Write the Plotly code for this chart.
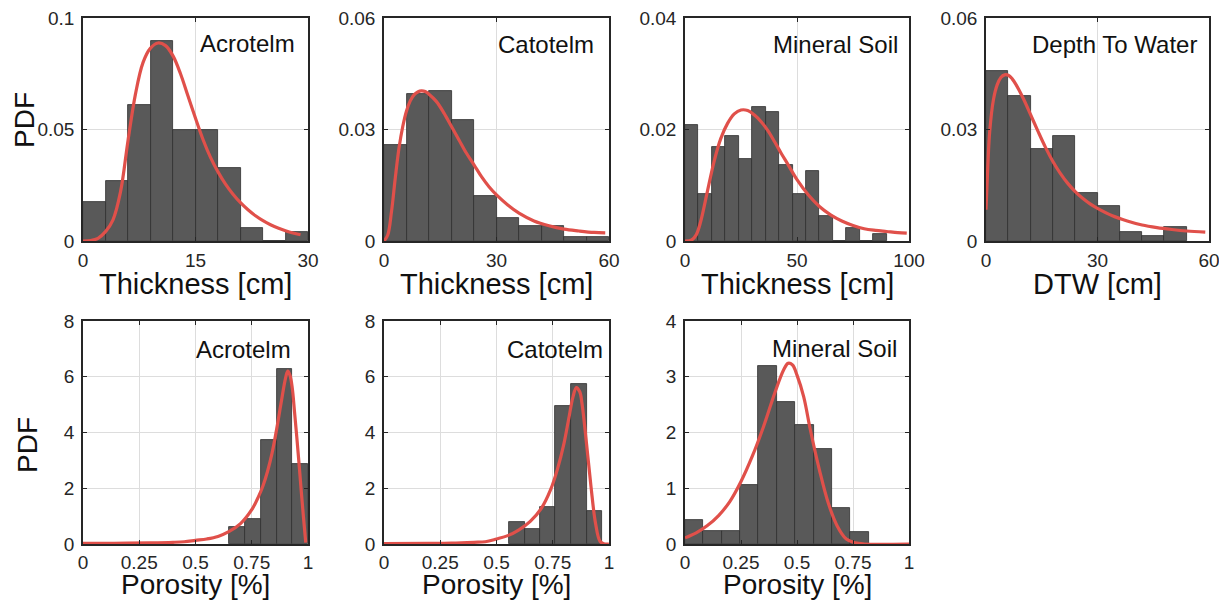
import plotly.graph_objects as go

# ---------------- data ----------------
# Panel 1: Acrotelm thickness [cm]
p1_edges = [0, 3, 6, 9, 12, 15, 18, 21, 24, 27, 30]
p1_hist = [0.0177, 0.0269, 0.0611, 0.0895, 0.0499, 0.0499, 0.0326, 0.0060, 0.0, 0.0042]
p1_cx = [0, 1, 2, 3, 4, 5, 6, 7, 8, 9, 10, 11, 12, 13, 14, 15, 16, 17, 18, 19, 20,
         21, 22, 23, 24, 25, 26, 27, 28, 29]
p1_cy = [0.0, 0.0002, 0.0012, 0.0042, 0.0095, 0.0220, 0.0450, 0.0660, 0.0800, 0.0865,
         0.0888, 0.0876, 0.0830, 0.0750, 0.0650, 0.0550, 0.0455, 0.0375, 0.0310, 0.0255,
         0.0210, 0.0172, 0.0140, 0.0113, 0.0091, 0.0073, 0.0058, 0.0046, 0.0036, 0.0028]

# Panel 2: Catotelm thickness [cm]
p2_edges = [0, 6, 12, 18, 24, 30, 36, 42, 48, 54, 60]
p2_hist = [0.0259, 0.0395, 0.0404, 0.0326, 0.0121, 0.0061, 0.0041, 0.0041, 0.0012, 0.0012]
p2_cx = [0, 1, 2, 3, 4, 5, 6, 7, 8, 9, 10, 11, 12, 14, 16, 18, 20, 22, 24, 26, 28, 30,
         33, 36, 40, 44, 48, 52, 56, 59]
p2_cy = [0.0, 0.0016, 0.0079, 0.0169, 0.0250, 0.0308, 0.0350, 0.0377, 0.0393, 0.0401,
         0.0404, 0.0402, 0.0395, 0.0375, 0.0344, 0.0308, 0.0272, 0.0236, 0.0205, 0.0173,
         0.0146, 0.0124, 0.0097, 0.0075, 0.0054, 0.0041, 0.0032, 0.0027, 0.0023, 0.0022]

# Panel 3: Mineral soil thickness [cm]
p3_edges = [0, 6, 12, 18, 24, 30, 36, 42, 48, 54, 60, 66, 72, 78, 84, 90]
p3_hist = [0.0208, 0.0084, 0.0168, 0.0189, 0.0147, 0.0240, 0.0231, 0.0137, 0.0084,
           0.0126, 0.0044, 0.0, 0.0023, 0.0, 0.0012]
p3_cx = [0, 3, 5, 7, 10, 13, 16, 19, 22, 25, 28, 31, 34, 37, 40, 43, 46, 50, 55, 60,
         65, 70, 75, 80, 85, 90, 95, 99]
p3_cy = [0.0, 0.0002, 0.0011, 0.0035, 0.0089, 0.0143, 0.0184, 0.0211, 0.0228, 0.0235,
         0.0234, 0.0226, 0.0214, 0.0198, 0.0178, 0.0157, 0.0137, 0.0110, 0.0083, 0.0062,
         0.0047, 0.0036, 0.0028, 0.0022, 0.0019, 0.0017, 0.0015, 0.0014]

# Panel 4: Depth to water [cm]
p4_edges = [0, 6, 12, 18, 24, 30, 36, 42, 48, 54]
p4_hist = [0.0458, 0.0389, 0.0248, 0.0283, 0.0130, 0.0095, 0.0025, 0.0014, 0.0037]
p4_cx = [0, 0.5, 1, 2, 3, 4, 5, 6, 7, 8, 10, 12, 14, 16, 18, 20, 22, 24, 26, 28, 30,
         34, 38, 42, 46, 50, 54, 59]
p4_cy = [0.0084, 0.0205, 0.0295, 0.0380, 0.0420, 0.0440, 0.0447, 0.0446, 0.0437, 0.0422,
         0.0384, 0.0340, 0.0295, 0.0252, 0.0214, 0.0182, 0.0155, 0.0133, 0.0115, 0.0100,
         0.0088, 0.0068, 0.0054, 0.0043, 0.0036, 0.0031, 0.0027, 0.0024]

# Panel 5: Acrotelm porosity
p5_edges = [0.65, 0.72, 0.79, 0.86, 0.93, 1.0]
p5_hist = [0.60, 0.89, 3.73, 6.29, 2.87]
p5_cx = [0, 0.1, 0.2, 0.3, 0.4, 0.45, 0.5, 0.55, 0.6, 0.65, 0.7, 0.75, 0.78, 0.8, 0.82,
         0.84, 0.86, 0.88, 0.9, 0.91, 0.92, 0.93, 0.94, 0.95, 0.96, 0.97, 0.98, 0.99]
p5_cy = [0.02, 0.025, 0.03, 0.04, 0.06, 0.08, 0.13, 0.18, 0.27, 0.45, 0.73, 1.23, 1.70,
         2.09, 2.60, 3.25, 4.09, 5.04, 5.94, 6.20, 6.05, 5.60, 4.75, 3.85, 2.90, 1.90,
         0.95, 0.05]

# Panel 6: Catotelm porosity
p6_edges = [0.556, 0.625, 0.693, 0.761, 0.830, 0.900, 0.969]
p6_hist = [0.80, 0.54, 1.32, 4.95, 5.73, 1.19]
p6_cx = [0, 0.2, 0.3, 0.4, 0.45, 0.5, 0.55, 0.6, 0.65, 0.7, 0.74, 0.77, 0.8, 0.82, 0.84,
         0.855, 0.87, 0.88, 0.9, 0.92, 0.94, 0.96, 0.98, 1.0]
p6_cy = [0.01, 0.02, 0.03, 0.06, 0.08, 0.18, 0.30, 0.51, 0.81, 1.29, 1.94, 2.66, 3.61,
         4.45, 5.28, 5.61, 5.46, 5.04, 3.61, 2.06, 0.75, 0.10, 0.0, 0.0]

# Panel 7: Mineral soil porosity
p7_edges = [0, 0.082, 0.164, 0.246, 0.328, 0.41, 0.492, 0.574, 0.656, 0.738, 0.82]
p7_hist = [0.435, 0.227, 0.227, 1.06, 3.20, 2.55, 2.13, 1.71, 0.64, 0.215]
p7_cx = [0, 0.05, 0.1, 0.15, 0.2, 0.25, 0.3, 0.35, 0.4, 0.44, 0.46, 0.48, 0.5, 0.53,
         0.56, 0.6, 0.64, 0.68, 0.72, 0.76, 0.8, 1.0]
p7_cy = [0.11, 0.20, 0.33, 0.51, 0.76, 1.12, 1.57, 2.10, 2.70, 3.12, 3.24, 3.21, 3.03,
         2.64, 2.04, 1.33, 0.73, 0.32, 0.09, 0.02, 0.0, 0.0]

labels = ["Acrotelm", "Catotelm", "Mineral Soil", "Depth To Water",
          "Acrotelm", "Catotelm", "Mineral Soil"]
xtitles = ["Thickness [cm]", "Thickness [cm]", "Thickness [cm]", "DTW [cm]",
           "Porosity [%]", "Porosity [%]", "Porosity [%]"]
xranges = [[0, 30], [0, 60], [0, 100], [0, 60], [0, 1], [0, 1], [0, 1]]
yranges = [[0, 0.1], [0, 0.06], [0, 0.04], [0, 0.06], [0, 8], [0, 8], [0, 4]]
xtickvals = [[0, 15, 30], [0, 30, 60], [0, 50, 100], [0, 30, 60],
             [0, 0.25, 0.5, 0.75, 1], [0, 0.25, 0.5, 0.75, 1], [0, 0.25, 0.5, 0.75, 1]]
xticktext = [["0", "15", "30"], ["0", "30", "60"], ["0", "50", "100"], ["0", "30", "60"],
             ["0", "0.25", "0.5", "0.75", "1"], ["0", "0.25", "0.5", "0.75", "1"],
             ["0", "0.25", "0.5", "0.75", "1"]]
ytickvals = [[0, 0.05, 0.1], [0, 0.03, 0.06], [0, 0.02, 0.04], [0, 0.03, 0.06],
             [0, 2, 4, 6, 8], [0, 2, 4, 6, 8], [0, 1, 2, 3, 4]]
yticktext = [["0", "0.05", "0.1"], ["0", "0.03", "0.06"], ["0", "0.02", "0.04"],
             ["0", "0.03", "0.06"], ["0", "2", "4", "6", "8"], ["0", "2", "4", "6", "8"],
             ["0", "1", "2", "3", "4"]]

edges_all = [p1_edges, p2_edges, p3_edges, p4_edges, p5_edges, p6_edges, p7_edges]
hist_all = [p1_hist, p2_hist, p3_hist, p4_hist, p5_hist, p6_hist, p7_hist]
cx_all = [p1_cx, p2_cx, p3_cx, p4_cx, p5_cx, p6_cx, p7_cx]
cy_all = [p1_cy, p2_cy, p3_cy, p4_cy, p5_cy, p6_cy, p7_cy]

# ---------------- layout geometry (pixels, in page coordinates) ----------------
OFF = 8  # default body margin of the html page
W, H = 1227 - 2 * OFF, 608 - 2 * OFF
cols_px = [(83, 308), (384, 609), (685, 909), (986, 1209)]
rows_px = [(18, 241), (321, 544)]
title_y = [284, 584]
title_size = [29, 28]
xtick_standoff = [1, 0]
panel_pos = [(0, 0), (0, 1), (0, 2), (0, 3), (1, 0), (1, 1), (1, 2)]
label_shift = [(11, 25), (13, 26), (9, 26), (10, 26), (15, 28), (4, 28), (10, 27)]


def fx(px):
    return (px - OFF) / W


def fy(py):
    return 1 - (py - OFF) / H


FONT = "Arial, Liberation Sans, Helvetica, sans-serif"
BAR_COLOR = "#595959"
EDGE_COLOR = "#2e2e2e"
CURVE_COLOR = "#e0504a"
FRAME_COLOR = "#262626"
GRID_COLOR = "#dddddd"

fig = go.Figure()
layout = dict(
    width=W, height=H,
    margin=dict(l=0, r=0, t=0, b=0, pad=0, autoexpand=False),
    paper_bgcolor="white", plot_bgcolor="white",
    showlegend=False,
    font=dict(family=FONT, color="#262626", size=19),
    annotations=[],
    bargap=0,
)

for i in range(7):
    r, c = panel_pos[i]
    xn = "" if i == 0 else str(i + 1)
    edges = edges_all[i]
    centers = [(edges[k] + edges[k + 1]) / 2 for k in range(len(edges) - 1)]
    widths = [edges[k + 1] - edges[k] for k in range(len(edges) - 1)]
    fig.add_trace(go.Bar(
        x=centers, y=hist_all[i], width=widths,
        marker=dict(color=BAR_COLOR, line=dict(color=EDGE_COLOR, width=0.8)),
        xaxis="x" + xn, yaxis="y" + xn, hoverinfo="skip",
    ))
    fig.add_trace(go.Scatter(
        x=cx_all[i], y=cy_all[i], mode="lines", line_shape="spline",
        line=dict(color=CURVE_COLOR, width=3.2),
        xaxis="x" + xn, yaxis="y" + xn, hoverinfo="skip",
    ))
    x0, x1 = cols_px[c]
    y0, y1 = rows_px[r]
    common = dict(
        showline=True, linecolor=FRAME_COLOR, linewidth=1.6, mirror="ticks",
        ticks="inside", ticklen=4, tickwidth=1.2, tickcolor=FRAME_COLOR,
        showgrid=True, gridcolor=GRID_COLOR, gridwidth=1.3,
        zeroline=False, fixedrange=True, automargin=False,
        ticklabeloverflow="allow",
        tickfont=dict(family=FONT, size=19, color="#262626"),
    )
    layout["xaxis" + xn] = dict(
        common, domain=[fx(x0), fx(x1)], range=xranges[i],
        tickvals=xtickvals[i], ticktext=xticktext[i],
        anchor="y" + xn, ticklabelstandoff=xtick_standoff[r],
    )
    layout["yaxis" + xn] = dict(
        common, domain=[fy(y1), fy(y0)], range=yranges[i],
        tickvals=ytickvals[i], ticktext=yticktext[i],
        anchor="x" + xn, ticklabelstandoff=3,
    )
    dx, dy = label_shift[i]
    layout["annotations"].append(dict(
        text=labels[i], xref="x" + xn + " domain", yref="y" + xn + " domain",
        x=1, y=1, xanchor="right", yanchor="middle", xshift=-dx, yshift=-dy,
        showarrow=False, font=dict(family=FONT, size=24, color="#111111"),
    ))
    layout["annotations"].append(dict(
        text=xtitles[i], xref="paper", yref="paper",
        x=fx((x0 + x1) / 2), y=fy(title_y[r]), xanchor="center", yanchor="middle",
        showarrow=False, font=dict(family=FONT, size=title_size[r], color="#111111"),
    ))

for cyp, cxp in [(120, 24), (445, 27)]:
    layout["annotations"].append(dict(
        text="PDF", xref="paper", yref="paper", x=fx(cxp), y=fy(cyp),
        xanchor="center", yanchor="middle", textangle=-90, showarrow=False,
        font=dict(family=FONT, size=28, color="#111111"),
    ))

fig.update_layout(**layout)
fig.write_html("out.html")
